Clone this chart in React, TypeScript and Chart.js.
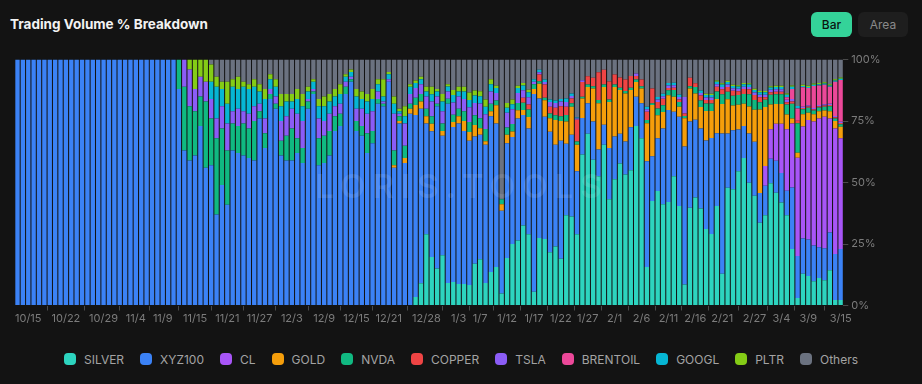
import React, { useEffect, useRef } from "react";
import { Chart, registerables } from "chart.js";

Chart.register(...registerables);

// 154 daily categories, 10/13 .. 3/15
const CATEGORIES: string[] = (() => {
  const out: string[] = [];
  for (let i = 0; i < 154; i++) {
    const d = new Date(2025, 9, 13 + i);
    out.push(`${d.getMonth() + 1}/${d.getDate()}`);
  }
  return out;
})();

const TICK_LABELS = [
  "10/15", "10/22", "10/29", "11/4", "11/9", "11/15", "11/21", "11/27", "12/3", "12/9",
  "12/15", "12/21", "12/28", "1/3", "1/7", "1/12", "1/17", "1/22", "1/27", "2/1", "2/6",
  "2/11", "2/16", "2/21", "2/27", "3/4", "3/9", "3/15",
];

const Z30 = [0,0,0,0,0,0,0,0,0,0, 0,0,0,0,0,0,0,0,0,0, 0,0,0,0,0,0,0,0,0,0];

const SILVER = [...Z30,
  0,0,0,0,0,0,0,0,0,0,
  0,0,0,0,0,0,0,0,0,0,
  0,0,0,0,0,0,0,0,0,0,
  0,0,0,0,0,0,0,0,0,0,
  0,0,0,0,3.5,9,29,19.7,15,20.4,
  9.2,9.6,8.7,8.7,8.3,17,18.8,9.2,13.6,15.7,
  4.9,19.3,25,26.4,32.5,29,5.6,27.4,27,21.7,
  24,19,36.7,36.2,29,61.4,69.8,59.3,52.6,65.4,
  43.2,51.3,57.7,53.3,55,73,68,15.7,42.5,46.6,
  41.2,42.1,52.6,40.5,8.5,39.8,43.9,39.4,31.1,29.1,
  40.5,12.9,47.9,47.3,54.6,60,49.9,44.6,33.7,36.7,
  49.7,45.9,41.9,36.7,23,3.1,12.9,12,9.9,11.2,
  10.3,14.3,2.2,2.2];

const XYZ100 = [
  100,100,100,100,100,100,100,100,100,100,
  100,100,100,100,100,100,100,100,100,100,
  100,100,100,100,100,100,100,100,100,100,
  88,63,59,61,73,56,57,37,49,41,
  63,62,61,60,59,76,64,84,80,61,
  59,59,62,58,80,86,57,58,61,71,
  73,86,91,71,69,62,66,82,81,91,
  56,74,58,78,74,71,45,51,66,48.6,
  73,63,65.3,62.3,58.7,51.7,50.6,56.2,63.4,58.3,
  33.6,46.7,43.5,49.6,45,43,80.4,56.8,49.8,49,
  41.4,48,29.1,33.2,25.6,14.8,12.4,15.5,10.8,8.1,
  20.8,17.4,12.1,13.4,17.5,11.9,14.2,43,18.2,21.4,
  30.8,37.4,26.2,36.3,56.2,35,31.6,32.6,36,39,
  29.5,57,22,24,17,13,20,22,12,12,
  10,13,12,10,25,17,14.3,14.8,14.5,12.5,
  13,15.4,18.8,20.8];

const CL = [...Z30,
  0,0,0,0,0,0,0,0,0,0,
  0,0,0,0,0,0,0,0,0,0,
  0,0,0,0,0,0,0,0,0,0,
  0,0,0,0,0,0,0,0,0,0,
  0,0,0,0,0,0,0,0,0,0,
  0,0,0,0,0,0,0,0,0,0,
  0,0,0,0,0,0,0,0,0,0,
  0,0,0,0,0,0,0,0,0,0,
  0,0,0,0,0,0,0,0,0,0,
  0,0,0,0,0,0,0,0,0,0,
  0,0,0,0,0,0,0,0,0,8,
  12,15,20,25,26,40,45.6,48.6,50.4,52.3,
  53.5,46.3,51.1,45];

const GOLD = [...Z30,
  0,0,0,0,0,0,0,0,0,0,
  0,0,0,0,0,0,0,0,0,0,
  0,0,0,0,0,0,0,0,0,0,
  0,0,0,0,0,0,0,0,0,0,
  1,1,2,2,4,3,3,3,0,2,
  0,2,3,4,3.6,4.7,2.7,1.4,2,7.4,
  2.7,3.4,2.3,3.4,2,4.7,2,6,6.7,5.4,
  10,8,9,11.4,10.8,8,6.7,13.4,18.8,15.4,
  18.8,20.2,17.8,19.5,15.1,6,6,15.4,20.8,9.4,
  6.7,6,6.1,4,11.4,13.4,10.7,8.7,12,11,
  14,12,14,10,10,9,11,13,34,24,
  10,8,8,6,2,2,5,3,3,3,
  2.5,3,3,4.7];

const NVDA = [...Z30,
  12,26,22,18,12,27,19,31,23,22,
  11,11,13,12,16,3,6,2,2,6,
  10,13,6,6,3,1,11,11,10,6,
  5,3,1,4,4,8,5,2,1,0,
  6,2,5,2,3,3,3,3,1,3,
  2,3,3,4,4,4,4,5,3,2,
  2,3,3,3,3,3,2,1,1,2,
  2,2,2.7,1.4,1.3,0.7,1,1,1.4,1,
  1,1,1,1,1,1,1,1.3,0.7,2.7,
  2.7,2,2.7,2,1,1,2.7,2.7,3,3,
  3,4,3,4,4,4,5,4,3,3,
  4,4,4,4,6,12,2,2,1.5,1.5,
  1.5,2,1,1];

const COPPER = [...Z30,
  0,0,0,0,0,0,0,0,0,0,
  0,0,0,0,0,0,0,0,0,0,
  0,0,0,0,0,0,0,0,0,0,
  0,0,0,0,0,0,0,0,0,0,
  0,0,0,0,0,0,0,0,0,0,
  0,0,0,0,0,0,0,0,0,0,
  0,0,0,0,2,2,0,2.7,5.4,2.7,
  3,4,3.3,2,8.8,6,3.3,3.4,11.3,6,
  7.3,4,4.1,4.7,4.7,1.4,2.7,3.4,6,2.7,
  2.7,1,1,1,1,3.4,1.5,2,1.5,1.5,
  2,2,2,2,1.5,2,2,2,2,1,
  1,1,1,1,1,1,0.5,0.5,0.5,0.5,
  0.5,0.5,0.5,0.5];

const TSLA = [...Z30,
  0,11,15,9,8,8,8,8,9,11,
  5,7,5,6,6,3,6,2,3,8,
  8,8,10,11,1,1,8,6,7,4,
  4,2,1,5,7,8,8,3,1,1,
  15,1,9,4,4,4,5,6,3,5,
  3,5,5,5,6,5,6,6,5,3,
  0,6,6,4,3,3,1,1,1,2,
  2,2,2,1,0.5,0.7,0,0,0,0,
  0,0,0,0,0,1,0,1,0,1,
  1,1,1,1,6.7,0,0,1,1,1,
  1,1,1,1,1,1,1,1,1,1,
  1,1,1,1,1,0,0.5,0.5,0.5,0.5,
  0.5,0.5,0.5,0.5];

const BRENTOIL = [...Z30,
  0,0,0,0,0,0,0,0,0,0,
  0,0,0,0,0,0,0,0,0,0,
  0,0,0,0,0,0,0,0,0,0,
  0,0,0,0,0,0,0,0,0,0,
  0,0,0,0,0,0,0,0,0,0,
  0,0,0,0,0,0,0,0,0,0,
  0,0,0,0,0,0,0,0,0,0,
  0,0,0,0,0,0,0,0,0,0,
  0,0,0,0,0,0,0,0,0,0,
  0,0,0,0,0,0,0,0,0,0,
  0,0,0,0,0,0,0,0,0,0,
  0,0,0,1,4,5,8,7,9,8,
  8,7,14,17];

const GOOGL = [...Z30,
  0,0,0,0,0,0,7,13,7,8,
  10,8,10,10,8,5,8,4,4,6,
  6,3,6,6,3,3,5,6,5,4,
  4,2,2,5,4,5,5,3,2,2,
  4,1,3,3,2,2,2,3,2,4,
  2,3,2,3,3,3,3,3,3,2,
  0,2,2,2,2,2,1,1,1,1,
  1,1,1.4,1,0.5,0,0,0,0,0,
  0,0,0,0,0,0,0,1,0,1,
  1,1,1,1,0,0,0,1,1,1,
  1,1,1,1,1,1,1,1,1,1,
  1,1,1,1,1,1,0.5,0.5,0.5,0.5,
  0.5,0.5,0.5,0.5];

const PLTR = [...Z30,
  0,0,4,12,7,9,7,4,3,9,
  3,5,2,2,3,3,4,2,3,5,
  3,3,4,5,2,1,3,4,3,3,
  4,1,1,3,3,3,4,2,7,1,
  3,1,4,1,1,1,2,3,1,3,
  1,2,2,2,3,2,2,3,2,1,
  0,2,2,1,1,1,0,0,0,0,
  0,0,0,0,0,0,0,0,0,0,
  0,0,0,0,0,0,0,0,0,0,
  0,0,0,0,0,0,0,0,0.5,0.5,
  0.5,0.5,0.5,0.5,0.5,0.5,0.5,0.5,0.5,0.5,
  0.5,0.5,0.5,0.5,0.5,0,0.5,0.5,0.5,0.5,
  0.5,0.5,0.5,0.5];

const OTHERS = [...Z30,
  0,0,0,0,0,0,2,7,9,9,
  8,7,9,10,8,10,12,6,8,14,
  14,14,12,14,11,8,16,15,14,12,
  10,6,4,12,13,14,12,8,8,5,
  15,20,19,10,8.5,7,11,11,12,14,
  10,12.4,11,11,13.4,12.6,12.9,16.2,8,10.6,
  56.8,17.6,16.2,10.6,9.5,12.3,8,4.1,8.1,16.2,
  16.6,16,15.8,13.8,23.5,8.4,6.8,7.4,5.1,4.1,
  8.9,6.1,7.3,8.1,6.7,5.7,8.1,19.2,11.8,15.2,
  13.9,9.5,9.4,14.2,15.2,7.4,9.6,12.6,13.9,13.9,
  8.5,9.6,8.6,10.2,10.4,9.5,9.6,11.9,12.8,12.8,
  10.8,10.6,10.6,13.8,10.5,18.9,10.2,10.6,9.7,9.5,
  9.2,10,8,7.3];

const SERIES = [
  { name: "SILVER", values: SILVER, color: "#2dd4bf" },
  { name: "XYZ100", values: XYZ100, color: "#3b82f6" },
  { name: "CL", values: CL, color: "#a855f7" },
  { name: "GOLD", values: GOLD, color: "#f59e0b" },
  { name: "NVDA", values: NVDA, color: "#10b981" },
  { name: "COPPER", values: COPPER, color: "#ef4444" },
  { name: "TSLA", values: TSLA, color: "#8b5cf6" },
  { name: "BRENTOIL", values: BRENTOIL, color: "#ec4899" },
  { name: "GOOGL", values: GOOGL, color: "#06b6d4" },
  { name: "PLTR", values: PLTR, color: "#84cc16" },
  { name: "Others", values: OTHERS, color: "#6b7280" },
];

const FONT = "Inter, 'Noto Sans', sans-serif";

const watermark = {
  id: "watermark",
  afterDatasetsDraw(chart: any) {
    const { ctx } = chart;
    ctx.save();
    ctx.fillStyle = "rgba(255,255,255,0.1)";
    ctx.font = `600 33px ${FONT}`;
    (ctx as any).letterSpacing = "7px";
    ctx.textAlign = "center";
    ctx.textBaseline = "middle";
    ctx.fillText("LORIS.TOOLS", 462, 188 - 50);
    ctx.restore();
  },
};

export default function App() {
  const ref = useRef<HTMLCanvasElement>(null);

  useEffect(() => {
    const totals = CATEGORIES.map((_, i) =>
      SERIES.reduce((s, se) => s + (se.values[i] || 0), 0)
    );
    const chart = new Chart(ref.current!, {
      type: "bar",
      data: {
        labels: CATEGORIES,
        datasets: SERIES.map((s) => ({
          label: s.name,
          data: s.values.map((v, i) => (totals[i] ? (v / totals[i]) * 100 : 0)),
          backgroundColor: s.color,
          borderWidth: 0,
          categoryPercentage: 0.9,
          barPercentage: 0.9,
          stack: "a",
        })),
      },
      options: {
        responsive: false,
        animation: false,
        layout: { padding: { left: 14.8, top: 7.5, right: 0, bottom: 0 } },
        plugins: { legend: { display: false }, tooltip: { enabled: false } },
        scales: {
          x: {
            stacked: true,
            border: { display: false },
            grid: {
              display: true,
              drawOnChartArea: false,
              drawTicks: true,
              tickLength: 5,
              color: "#4a4a4a",
            },
            ticks: {
              autoSkip: false,
              maxRotation: 0,
              minRotation: 0,
              padding: 2,
              color: "#7c7c7c",
              font: { family: FONT, size: 11 },
              callback: (_v: any, i: number) =>
                TICK_LABELS.includes(CATEGORIES[i]) ? CATEGORIES[i] : null,
            },
            afterFit: (s: any) => {
              s.height = 29.5;
            },
          },
          y: {
            stacked: true,
            position: "right",
            min: 0,
            max: 100,
            border: { display: false },
            grid: {
              drawOnChartArea: false,
              drawTicks: true,
              tickLength: 5,
              color: "#4a4a4a",
            },
            ticks: {
              stepSize: 25,
              padding: 3,
              color: "#7c7c7c",
              font: { family: FONT, size: 11 },
              callback: (v: any) => `${v}%`,
            },
            afterFit: (s: any) => {
              s.width = 78.7;
            },
          },
        },
      },
      plugins: [watermark],
    });
    return () => chart.destroy();
  }, []);

  return (
    <div
      style={{
        position: "fixed",
        left: 0,
        top: 0,
        width: 922,
        height: 384,
        background: "#131313",
        fontFamily: FONT,
        overflow: "hidden",
      }}
    >
      <div
        style={{
          position: "absolute",
          left: 10,
          top: 15,
          fontSize: 13.5,
          fontWeight: 700,
          color: "#f2f2f2",
          lineHeight: "18px",
        }}
      >
        Trading Volume % Breakdown
      </div>
      <div
        style={{
          position: "absolute",
          left: 811,
          top: 12,
          width: 41,
          height: 25,
          borderRadius: 6,
          background: "#34d399",
          color: "#0b1510",
          fontSize: 12,
          fontWeight: 500,
          display: "flex",
          alignItems: "center",
          justifyContent: "center",
        }}
      >
        Bar
      </div>
      <div
        style={{
          position: "absolute",
          left: 858,
          top: 12,
          width: 50,
          height: 25,
          borderRadius: 6,
          background: "#1e1e1e",
          color: "#8a8a8a",
          fontSize: 12,
          display: "flex",
          alignItems: "center",
          justifyContent: "center",
        }}
      >
        Area
      </div>
      <canvas
        ref={ref}
        width={922}
        height={285}
        style={{ position: "absolute", left: 0, top: 50, width: 922, height: 285 }}
      />
      <div
        style={{
          position: "absolute",
          left: 0,
          width: 922,
          top: 351,
          height: 16,
          display: "flex",
          justifyContent: "center",
          alignItems: "center",
          gap: 16,
        }}
      >
        {SERIES.map((s) => (
          <div key={s.name} style={{ display: "flex", alignItems: "center" }}>
            <span
              style={{
                width: 12,
                height: 12,
                borderRadius: 4,
                background: s.color,
                marginRight: 8,
                display: "inline-block",
              }}
            />
            <span style={{ fontSize: 12, color: "#a3a3a3" }}>{s.name}</span>
          </div>
        ))}
      </div>
    </div>
  );
}
